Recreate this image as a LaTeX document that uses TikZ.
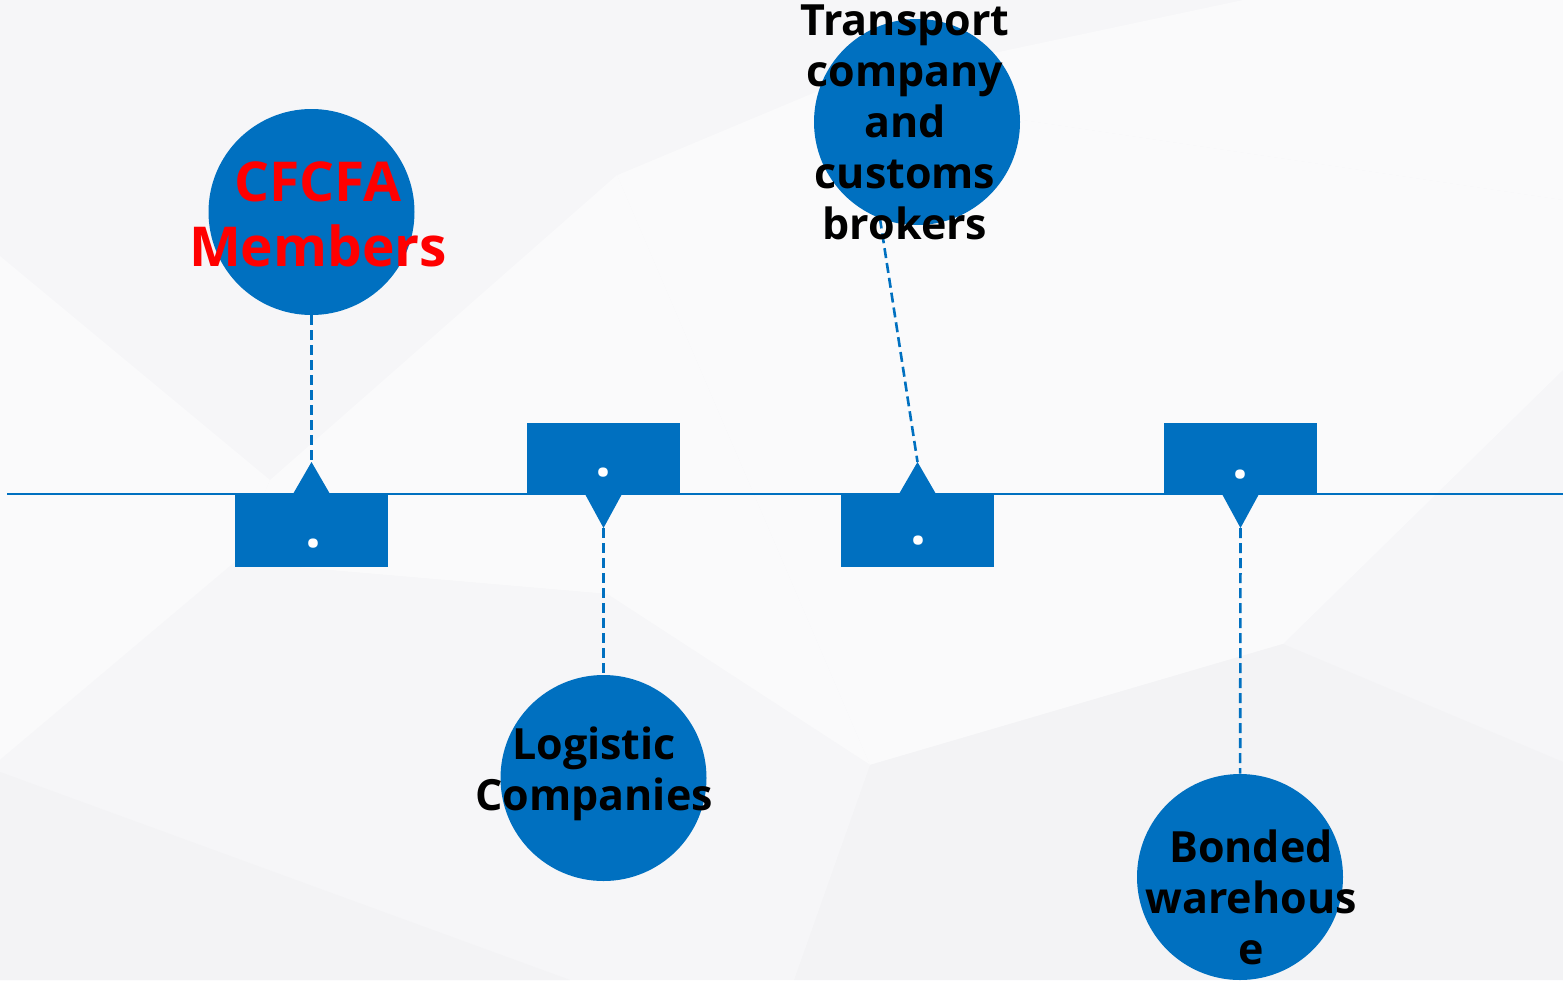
\documentclass[tikz,border=0pt]{standalone}
\usepackage{fontspec}
\setmainfont{Open Sans}
\definecolor{tlblue}{RGB}{0,112,192}
\definecolor{bgdark}{RGB}{243,243,245}
\definecolor{bgmid}{RGB}{246,246,248}
\definecolor{bglight}{RGB}{250,250,251}
\pgfdeclarelayer{background layer}
\pgfsetlayers{background layer,main}
\tikzstyle{hub}=[circle,fill=tlblue,inner sep=0pt,minimum size=103pt]
\tikzstyle{flag}=[rectangle,fill=tlblue,inner sep=0pt,minimum width=76.5pt,minimum height=36pt]
\tikzstyle{blacklbl}=[align=center,inner sep=0pt,text=black,font=\bfseries\fontsize{21.5}{25.5}\selectfont]
\tikzstyle{redlbl}=[align=center,inner sep=0pt,text=red,font=\bfseries\fontsize{27.5}{32.5}\selectfont]
\tikzstyle{dotmark}=[inner sep=0pt,text=white,font=\bfseries\fontsize{28}{28}\selectfont]
\tikzstyle{stem}=[draw=tlblue,line width=1.3pt,dash pattern=on 5pt off 2.5pt]
\tikzstyle{axis}=[draw=tlblue,line width=1.2pt]

\begin{document}
\begin{tikzpicture}[x=0.5pt,y=-0.5pt]
		\useasboundingbox (0,0) rectangle (1563,980);

		\begin{pgfonlayer}{background layer}
			\fill [bgmid] (0,0) rectangle (1563,980);
			\fill [bgmid] (0,0)--(408,0)--(617,175)--(270,480)--(0,256)--cycle;
			\fill [bglight] (0,256)--(270,480)--(235,562)--(0,760)--cycle;
			\fill [bglight] (270,480)--(617,175)--(870,765)--(607,594)--(235,562)--cycle;
			\fill [bglight] (617,175)--(820,90)--(1563,200)--(1563,370)--(1283,644)--(870,765)--cycle;
			\fill [bgmid] (408,0)--(617,175)--(820,90)--(1243,0)--cycle;
			\fill [bglight] (820,90)--(1243,0)--(1563,0)--(1563,200)--cycle;
			\fill [bgdark] (870,765)--(1283,644)--(1563,762)--(1563,980)--(794,980)--cycle;
			\fill [bgmid] (0,760)--(235,562)--(607,594)--(870,765)--(794,980)--(0,980)--cycle;
			\fill [bgdark] (0,772)--(570,980)--(0,980)--cycle;
		\end{pgfonlayer}

		\coordinate (l0) at (7,494);
		\coordinate (l1) at (1563,494);
		\draw [axis] (l0)-- (l1);

		% markers on the line
		\node (b1) at (311.5,531) [flag] {};
		\node (b2) at (603.5,459) [flag] {};
		\node (b3) at (917.5,531) [flag] {};
		\node (b4) at (1240.5,459) [flag] {};
		\coordinate (p1) at (311.5,462);
		\coordinate (p2) at (603.5,528);
		\coordinate (p3) at (917.5,462);
		\coordinate (p4) at (1240.5,528);
		\fill [tlblue] (p1)-- ++(18.5,32)-- ++(-37,0)-- (p1);
		\fill [tlblue] (p2)-- ++(18.5,-34)-- ++(-37,0)-- (p2);
		\fill [tlblue] (p3)-- ++(18.5,32)-- ++(-37,0)-- (p3);
		\fill [tlblue] (p4)-- ++(18.5,-34)-- ++(-37,0)-- (p4);
		\node (d1) at (313,544) [dotmark] {.};
		\node (d2) at (603,473) [dotmark] {.};
		\node (d3) at (918.5,541) [dotmark] {.};
		\node (d4) at (1240,475) [dotmark] {.};

		% circles
		\node (cfcfa) at (311.5,212) [hub] {};
		\node (logi) at (603.5,778) [hub] {};
		\node (trans) at (917,122) [hub] {};
		\node (bond) at (1240,877) [hub] {};

		\draw [stem] (cfcfa)-- (p1);
		\draw [stem] (p2)-- (logi);
		\draw [stem] (trans.249)-- (p3);
		\draw [stem] (p4)-- (bond);

		\node (t1) at (318,214.5) [redlbl] {CFCFA\\Members};
		\node (t2) at (594,774) [blacklbl] {Logistic\\Companies};
		\node (t3) at (905,122) [blacklbl] {Transport\\company\\and\\customs\\brokers};
		\node (t4) at (1251,897.5) [blacklbl] {Bonded\\warehous\\e};
	\end{tikzpicture}
\end{document}
